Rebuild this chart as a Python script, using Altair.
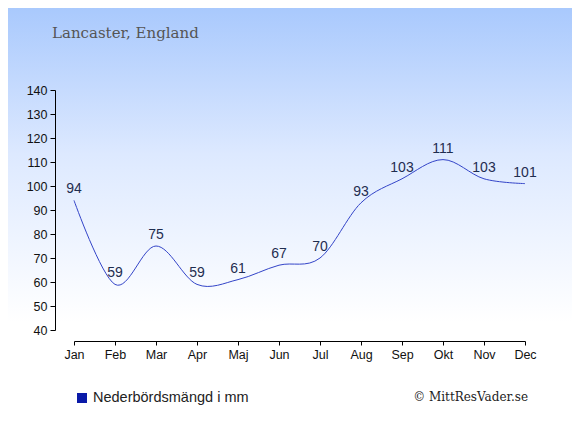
import altair as alt
import pandas as pd

months = ["Jan", "Feb", "Mar", "Apr", "Maj", "Jun", "Jul", "Aug", "Sep", "Okt", "Nov", "Dec"]
rain = [94, 59, 75, 59, 61, 67, 70, 93, 103, 111, 103, 101]
y_ticks = list(range(40, 150, 10))

df = pd.DataFrame({"month": months, "rain": rain})
one = pd.DataFrame({"k": [0]})

W, H = 451, 240
PL, PT = 66, 82

bg = alt.Chart(one).mark_rect(
    color=alt.Gradient(
        gradient="linear",
        stops=[alt.GradientStop(color="#a9c9fd", offset=0),
               alt.GradientStop(color="#dde9ff", offset=0.35),
               alt.GradientStop(color="#ffffff", offset=0.75),
               alt.GradientStop(color="#ffffff", offset=1)],
        x1=0, x2=0, y1=0, y2=1,
    )
).encode(x=alt.value(-PL), x2=alt.value(564 - PL), y=alt.value(-PT), y2=alt.value(419 - PT))

xenc = alt.X("month:N", sort=months, scale=alt.Scale(type="point", padding=0),
             axis=alt.Axis(title=None, labelAngle=0, offset=11, tickSize=4, labelPadding=3,
                           labelFont="Liberation Sans", labelFontSize=12.5, labelColor="#111",
                           labelOverlap=False,
                           domainColor="#000", tickColor="#000", zindex=2))
yenc = alt.Y("rain:Q", scale=alt.Scale(domain=[40, 140]),
             axis=alt.Axis(title=None, values=y_ticks, offset=19, tickSize=5, labelPadding=3,
                           grid=False, labelFont="Liberation Sans", labelFontSize=12.5,
                           labelOverlap=False, labelFlush=False,
                           labelColor="#111", domainColor="#000", tickColor="#000", zindex=2))

base = alt.Chart(df).encode(x=xenc, y=yenc)

line = base.mark_line(interpolate="cardinal", color="#3344c8", strokeWidth=1)

labels = base.mark_text(font="Liberation Sans", fontSize=14, color="#1f2d50",
                        baseline="alphabetic", dy=-7).encode(text="rain:Q")

title = alt.Chart(one).mark_text(text="Lancaster, England", font="DejaVu Serif", fontSize=15,
                                 color="#555555", align="left", baseline="alphabetic").encode(
    x=alt.value(52 - 74), y=alt.value(38 - 90))

leg_sq = alt.Chart(one).mark_rect(color="#0a1aa8").encode(
    x=alt.value(77 - 74), x2=alt.value(87 - 74), y=alt.value(393 - 90), y2=alt.value(403 - 90))
leg_tx = alt.Chart(one).mark_text(text="Nederbördsmängd i mm", font="Liberation Sans", fontSize=14.5,
                                  color="#222222", align="left", baseline="middle").encode(
    x=alt.value(93 - 74), y=alt.value(398 - 90))
copy = alt.Chart(one).mark_text(text="© MittResVader.se", font="DejaVu Serif", fontSize=12,
                                color="#222222", align="right", baseline="middle").encode(
    x=alt.value(528 - 74), y=alt.value(397 - 90))

chart = alt.layer(bg, line, labels, title, leg_sq, leg_tx, copy).properties(
    width=W, height=H,
    padding={"left": PL, "top": PT, "right": 564 - PL - W, "bottom": 419 - PT - H},
    autosize=alt.AutoSizeParams(type="none"),
).configure_view(stroke=None)

chart.save("out.html", embed_options={"renderer": "svg", "actions": False})
